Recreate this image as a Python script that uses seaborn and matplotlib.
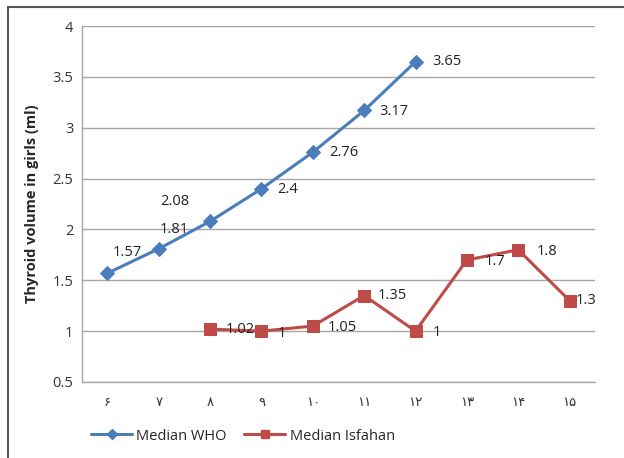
import matplotlib
matplotlib.use("Agg")
import matplotlib.pyplot as plt
import seaborn as sns
import pandas as pd
from matplotlib.lines import Line2D

ages = [6, 7, 8, 9, 10, 11, 12, 13, 14, 15]
age_labels = ["۶", "۷", "۸", "۹", "۱۰", "۱۱", "۱۲", "۱۳", "۱۴", "۱۵"]
who_ages = [6, 7, 8, 9, 10, 11, 12]
who_values = [1.57, 1.81, 2.08, 2.4, 2.76, 3.17, 3.65]
isf_ages = [8, 9, 10, 11, 12, 13, 14, 15]
isf_values = [1.02, 1, 1.05, 1.35, 1, 1.7, 1.8, 1.3]
who_label_text = ["1.57", "1.81", "2.08", "2.4", "2.76", "3.17", "3.65"]
isf_label_text = ["1.02", "1", "1.05", "1.35", "1", "1.7", "1.8", "1.3"]

sns.set_theme(style="white")
plt.rcParams["font.family"] = ["Open Sans", "DejaVu Sans"]

blue = "#4A7EBB"
red = "#BE4B48"

fig = plt.figure(figsize=(6.24, 4.58), dpi=100)
ax = fig.add_axes([0.131, 0.166, 0.823, 0.777])

df_who = pd.DataFrame({"age": who_ages, "value": who_values})
df_isf = pd.DataFrame({"age": isf_ages, "value": isf_values})

sns.lineplot(data=df_who, x="age", y="value", ax=ax, color=blue, linewidth=2.2,
             marker="D", markersize=7, markeredgecolor=blue, legend=False)
sns.lineplot(data=df_isf, x="age", y="value", ax=ax, color=red, linewidth=2.2,
             marker="s", markersize=8, markeredgecolor=red, legend=False)

ax.set_xlim(5.5, 15.5)
ax.set_ylim(0.5, 4)
ax.set_yticks([0.5, 1, 1.5, 2, 2.5, 3, 3.5, 4])
ax.set_yticklabels(["0.5", "1", "1.5", "2", "2.5", "3", "3.5", "4"], fontsize=10.5, color="#333333")
ax.set_xticks(ages)
ax.set_xticklabels(age_labels, fontsize=9.5, color="#333333", family=["DejaVu Sans"])
ax.tick_params(axis="x", pad=10, length=0)
ax.tick_params(axis="y", pad=6, length=0)
ax.grid(axis="y", color="#A6A6A6", linewidth=1)
ax.set_axisbelow(True)
for s in ["top", "right"]:
    ax.spines[s].set_visible(False)
for s in ["left", "bottom"]:
    ax.spines[s].set_color("#A6A6A6")
    ax.spines[s].set_linewidth(1)
ax.set_xlabel("")
ax.set_ylabel("Thyroid volume in girls (ml)", fontsize=10.5, fontweight="bold", labelpad=10)

who_offsets = [(4, 15), (1, 14), (-36, 14), (11.5, -0.5), (11.5, 0), (11, -0.5), (12, 0)]
for x, y, t, off in zip(who_ages, who_values, who_label_text, who_offsets):
    ax.annotate(t, (x, y), xytext=off, textcoords="offset points",
                fontsize=10.5, color="#222222", va="center", ha="left")

isf_offsets = [(11, 0), (12, -2), (11, -1), (10, 0), (12, -1), (13, -1), (13, -1), (4, 0)]
for x, y, t, off in zip(isf_ages, isf_values, isf_label_text, isf_offsets):
    ax.annotate(t, (x, y), xytext=off, textcoords="offset points",
                fontsize=10.5, color="#222222", va="center", ha="left")

handles = [
    Line2D([], [], color=blue, linewidth=2.2, marker="D", markersize=5),
    Line2D([], [], color=red, linewidth=2.2, marker="s", markersize=6),
]
fig.legend(handles, ["Median WHO", "Median Isfahan"], loc="center left",
           bbox_to_anchor=(0.125, 0.048), ncol=2, frameon=False, fontsize=10.5,
           handlelength=2.8, columnspacing=1.2, handletextpad=0.3)

# outer frame (top and left edges)
fig.add_artist(Line2D([8 / 624, 1], [1 - 7 / 458, 1 - 7 / 458], transform=fig.transFigure,
                      color="#555555", linewidth=1.5))
fig.add_artist(Line2D([8 / 624, 8 / 624], [0, 1 - 7 / 458], transform=fig.transFigure,
                      color="#555555", linewidth=1.5))

fig.savefig("out.png", dpi=100)
